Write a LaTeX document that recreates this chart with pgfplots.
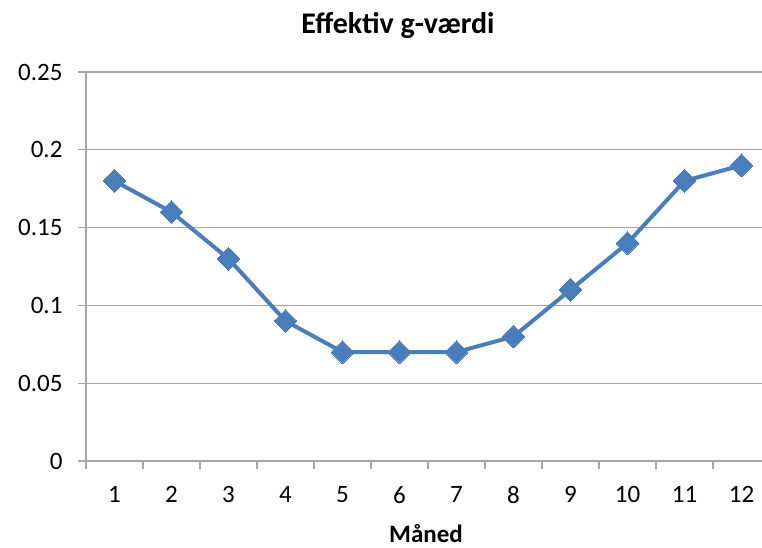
\documentclass[border=0pt]{standalone}
\usepackage{pgfplots}
\pgfplotsset{compat=1.18}
\usepackage{fontspec}
\setmainfont{Carlito}
\definecolor{ln}{HTML}{4A7EBB}
\definecolor{gr}{HTML}{A6A6A6}
\begin{document}
\begin{tikzpicture}
\begin{axis}[
  scale only axis, width=684pt, height=389pt,
  at={(0,0)}, anchor=south west,
  xmin=0.5, xmax=12.5, ymin=0, ymax=0.25,
  axis x line*=bottom, axis y line*=left,
  axis line style={gr, line width=1.2pt, -},
  tick align=outside, major tick length=8pt,
  xtick={1,2,3,4,5,6,7,8,9,10,11,12},
  xtick style={draw=none},
  extra x ticks={0.5,1.5,2.5,3.5,4.5,5.5,6.5,7.5,8.5,9.5,10.5,11.5,12.5},
  extra x tick labels={},
  extra x tick style={xtick style={draw=gr, line width=1.2pt}, grid=none},
  ytick={0,0.05,0.1,0.15,0.2,0.25},
  yticklabels={0,0.05,0.1,0.15,0.2,0.25},
  ytick style={draw=gr, line width=1.2pt},
  ymajorgrids, grid style={gr, line width=1.2pt},
  tick label style={font=\fontsize{25}{30}\selectfont, text=black},
  /pgf/number format/assume math mode=true,
  yticklabel style={xshift=-12pt},
  xticklabel style={yshift=-14pt},
  clip=false,
]
\addplot[color=ln, line width=4pt, mark=square*, mark size=8.1pt,
  mark options={rotate=45, fill=ln, draw=ln, line width=0pt}]
  coordinates {(1,0.18)(2,0.16)(3,0.13)(4,0.09)(5,0.07)(6,0.07)(7,0.07)(8,0.08)(9,0.11)(10,0.14)(11,0.18)(12,0.19)};
\end{axis}
\node[font=\bfseries\fontsize{30}{36}\selectfont] at (312pt,436pt) {Effektiv g-værdi};
\node[font=\bfseries\fontsize{25}{30}\selectfont, anchor=base, inner sep=0pt] at (340pt,-81pt) {Måned};
\pgfresetboundingbox
\path[use as bounding box] (-86pt,-86pt) rectangle (676pt,461pt);
\end{tikzpicture}
\end{document}
